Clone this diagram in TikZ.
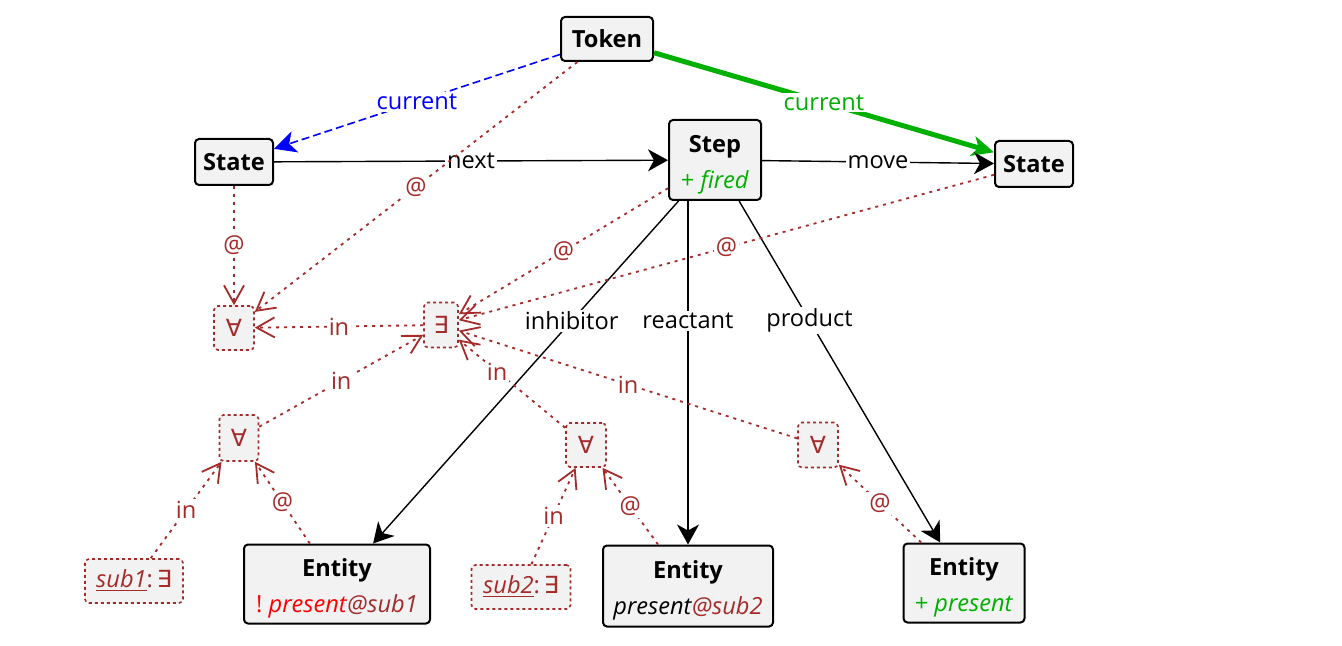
\documentclass[tikz,border=0pt]{standalone}
\usepackage{fontspec}
\setmainfont{Open Sans}
\newfontfamily\symfont{DejaVu Sans}
\usetikzlibrary{arrows.meta}
\definecolor{nacbrown}{HTML}{A52A2A}
\definecolor{nacgreen}{HTML}{00B000}
\definecolor{boxgray}{HTML}{F2F2F2}
\newcommand\qall{{\symfont ∀}}
\newcommand\qex{{\symfont ∃}}
\newcommand\toprow[1]{\rule{0pt}{13pt}\textbf{#1}}
\tikzset{
  elem/.style={draw, rounded corners=2pt, line width=1pt, fill=boxgray,
    align=center, inner sep=0pt, font=\fontsize{11.8}{18}\selectfont},
  quant/.style={draw=nacbrown, dash pattern=on 1.5pt off 1.5pt,
    rounded corners=2pt, line width=0.8pt, fill=boxgray, text=nacbrown,
    inner sep=0pt, font=\fontsize{11.8}{14}\selectfont},
  edge/.style={-{Stealth[length=10pt,width=11pt,inset=3pt]}, line width=0.7pt},
  nac/.style={nacbrown, dash pattern=on 1.5pt off 2.5pt, line width=0.9pt,
    -{Straight Barb[length=9pt,width=10pt]}},
  curdash/.style={blue, dash pattern=on 4pt off 2pt, line width=0.8pt,
    -{Stealth[length=11pt,width=11pt,inset=3pt]}},
  curbold/.style={nacgreen, line width=2.5pt,
    -{Stealth[length=11pt,width=10pt,inset=3pt]}},
  lbl/.style={fill=white, inner sep=1pt, font=\fontsize{11.8}{14}\selectfont},
}
\begin{document}
\begin{tikzpicture}[x=0.5pt,y=-0.5pt]
\useasboundingbox(0,0)rectangle(1342,646);

\node[elem, minimum width=46pt, minimum height=22pt](token)at(607,39){\textbf{Token}};
\node[elem, minimum width=39pt, minimum height=23pt](stateL)at(234,162){\textbf{State}};
\node[elem, minimum width=46pt, minimum height=40pt](step)at(715,160)
    {\toprow{Step}\\\textcolor{nacgreen}{+\ \textit{fired}}};
\node[elem, minimum width=39pt, minimum height=23pt](stateR)at(1034,164){\textbf{State}};

\node[quant, minimum width=20pt, minimum height=22pt](qa1)at(234,328){\qall};
\node[quant, minimum width=17pt, minimum height=22.5pt](qe)at(441,325){\qex};
\node[quant, minimum width=19.5pt, minimum height=23pt](qa2)at(239,438){\qall};
\node[quant, minimum width=20pt, minimum height=22pt](qa3)at(586,445){\qall};
\node[quant, minimum width=20pt, minimum height=22.5pt](qa4)at(818,445){\qall};

\node[quant, minimum width=49pt, minimum height=22pt](sub1)at(134,581)
    {\textit{\underline{sub1}}:\,\qex};
\node[quant, minimum width=49.5pt, minimum height=22pt](sub2)at(521,587)
    {\textit{\underline{sub2}}:\,\qex};

\node[elem, minimum width=93pt, minimum height=39.5pt](ent1)at(337,584)
    {\toprow{Entity}\\\textcolor{red}{!\ \textit{present}}\textcolor{nacbrown}{\textit{@sub1}}};
\node[elem, minimum width=85pt, minimum height=40.5pt](ent2)at(688,586)
    {\toprow{Entity}\\\textit{present}\textcolor{nacbrown}{\textit{@sub2}}};
\node[elem, minimum width=60.5pt, minimum height=39.5pt](ent3)at(964,583)
    {\toprow{Entity}\\\textcolor{nacgreen}{+\ \textit{present}}};

%token pointers
\draw[curdash](token)--node[lbl]{current}(stateL);
\draw[curbold](token)--node[lbl]{current}(stateR);

%graph edges
\draw[edge](stateL)--node[lbl]{next}(step);
\draw[edge](step)--node[lbl]{move}(stateR);
\draw[edge](step)--node[lbl, pos=.35]{inhibitor}(ent1);
\draw[edge](step.south -| ent2)--node[lbl, pos=.35]{reactant}(ent2);
\draw[edge](step)--node[lbl, pos=.35]{product}(ent3);

%quantifier edges
\draw[nac](token)--node[lbl]{@}(qa1);
\draw[nac](stateL)--node[lbl]{@}(qa1);
\draw[nac](step)--node[lbl]{@}(qe);
\draw[nac](stateR)--node[lbl]{@}(qe);
\draw[nac](qe)--node[lbl]{in}(qa1);
\draw[nac](qa2)--node[lbl]{in}(qe);
\draw[nac](qa3)--node[lbl, pos=.64]{in}(qe);
\draw[nac](qa4)--node[lbl]{in}(qe);
\draw[nac](sub1)--node[lbl]{in}(qa2);
\draw[nac](ent1)--node[lbl]{@}(qa2);
\draw[nac](sub2)--node[lbl]{in}(qa3);
\draw[nac](ent2)--node[lbl]{@}(qa3);
\draw[nac](ent3)--node[lbl]{@}(qa4);
\end{tikzpicture}
\end{document}
